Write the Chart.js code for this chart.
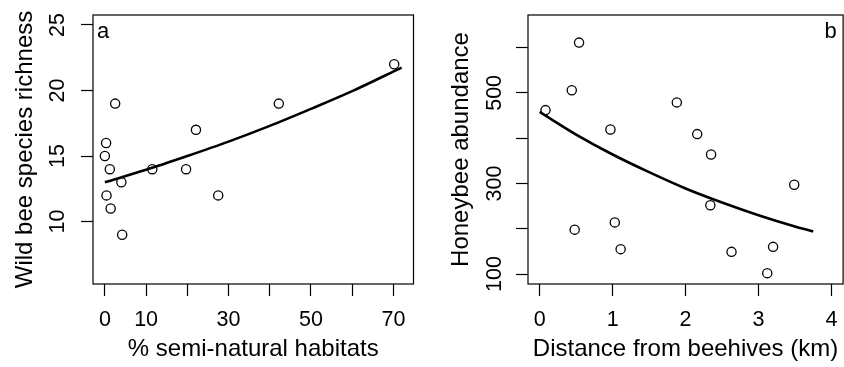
<!DOCTYPE html>
<html>
<head>
<meta charset="utf-8">
<script src="https://cdn.jsdelivr.net/npm/chart.js@4"></script>
<style>
  html, body { margin: 0; padding: 0; background: #fff; overflow: hidden; }
  #wrapA { position: absolute; left: 0; top: 0; width: 422px; height: 367px; }
  #wrapB { position: absolute; left: 422px; top: 0; width: 427px; height: 367px; }
</style>
</head>
<body>
<div id="wrapA"><canvas id="chartA"></canvas></div>
<div id="wrapB"><canvas id="chartB"></canvas></div>
<script>
// panel a: wild bee richness vs % semi-natural habitats
const habitatX = [0, 0.3, 1.2, 0.4, 1.4, 2.5, 4.0, 4.2, 11.5, 19.7, 22.1, 27.5, 42.2, 70.2];
const richnessY = [15, 16, 14, 12, 11, 19, 13, 9, 14, 14, 17, 12, 19, 22];
const fitHabitatX = [0, 10, 20, 30, 40, 50, 60, 72];
const fitRichnessY = [13.0, 13.95, 15.0, 16.1, 17.3, 18.6, 19.95, 21.75];
const xTicksA = [0, 10, 20, 30, 40, 50, 60, 70];
const xLabelsA = [0, 10, 30, 50, 70];
const yTicksA = [10, 15, 20, 25];
const yLabelsA = [10, 15, 20, 25];

// panel b: honeybee abundance vs distance from hives
const distX = [0.08, 0.44, 0.54, 0.48, 0.97, 1.03, 1.11, 1.88, 2.16, 2.35, 2.34, 2.63, 3.12, 3.2, 3.49];
const honeyY = [462, 506, 611, 198, 419, 214, 155, 479, 409, 364, 252, 149, 102, 160, 297];
const fitDistX = [0, 0.5, 1, 1.5, 2, 2.5, 3, 3.5, 3.75];
const fitHoneyY = [458, 408, 364, 325, 289, 258, 230, 205, 194];
const xTicksB = [0, 1, 2, 3, 4];
const xLabelsB = [0, 1, 2, 3, 4];
const yTicksB = [100, 200, 300, 400, 500, 600];
const yLabelsB = [100, 300, 500];

const FONT = '"Liberation Sans", Arial, Helvetica, sans-serif';

function pts(xs, ys) { return xs.map((x, i) => ({ x: x, y: ys[i] })); }

// box round the plot region, rotated y labels, panel letter
function panelPlugin(letter, letterX, letterY, yLabels, labelX) {
    return {
        id: 'panel' + letter,
        afterDraw(chart) {
            const ctx = chart.ctx;
            const a = chart.chartArea;
            ctx.save();
            ctx.strokeStyle = '#000';
            ctx.lineWidth = 1.2;
            ctx.strokeRect(a.left, a.top, a.right - a.left, a.bottom - a.top);

            const fs = 21.5;
            ctx.fillStyle = '#000';
            ctx.font = fs + 'px ' + FONT;
            ctx.textAlign = 'center';
            ctx.textBaseline = 'alphabetic';
            const ys = chart.scales.y;
            yLabels.forEach(v => {
                const py = ys.getPixelForValue(v);
                ctx.save();
                ctx.translate(labelX + 0.358 * fs, py);
                ctx.rotate(-Math.PI / 2);
                ctx.fillText(String(v), 0, 0);
                ctx.restore();
            });

            ctx.font = '22px ' + FONT;
            ctx.textAlign = 'left';
            ctx.fillText(letter, letterX, letterY);
            ctx.restore();
        }
    };
}

function makeChart(id, cfg) {
    return new Chart(document.getElementById(id), {
        type: 'scatter',
        data: {
            datasets: [{
                data: pts(cfg.px, cfg.py),
                showLine: false,
                pointStyle: 'circle',
                pointRadius: 4.6,
                pointBorderWidth: 1.3,
                pointBorderColor: '#000',
                pointBackgroundColor: 'rgba(0,0,0,0)',
                pointHoverRadius: 4.6
            }, {
                type: 'line',
                data: pts(cfg.fx, cfg.fy),
                borderColor: '#000',
                borderWidth: 2.6,
                pointRadius: 0,
                fill: false,
                cubicInterpolationMode: 'monotone'
            }]
        },
        options: {
            responsive: true,
            maintainAspectRatio: false,
            animation: false,
            events: [],
            layout: { padding: { top: 15, right: cfg.padRight, left: 0, bottom: 0 } },
            plugins: { legend: { display: false }, tooltip: { enabled: false } },
            scales: {
                x: {
                    type: 'linear',
                    min: cfg.xMin, max: cfg.xMax,
                    afterFit: s => { s.height = 83; },
                    afterBuildTicks: s => { s.ticks = cfg.xTicks.map(v => ({ value: v })); },
                    border: { display: false },
                    grid: { drawOnChartArea: false, drawTicks: true, tickLength: 12, tickColor: '#000', tickWidth: 1.2 },
                    ticks: {
                        autoSkip: false, maxRotation: 0, padding: 11, color: '#000',
                        font: { family: FONT, size: 21.5 },
                        callback: v => cfg.xLabels.includes(v) ? String(v) : ''
                    },
                    title: {
                        display: true, text: cfg.xTitle, color: '#000',
                        font: { family: FONT, size: 24 },
                        padding: { top: 0, bottom: 3.5 }
                    }
                },
                y: {
                    type: 'linear',
                    min: cfg.yMin, max: cfg.yMax,
                    afterFit: s => { s.width = cfg.yWidth; },
                    afterBuildTicks: s => { s.ticks = cfg.yTicks.map(v => ({ value: v })); },
                    border: { display: false },
                    grid: { drawOnChartArea: false, drawTicks: true, tickLength: 12, tickColor: '#000', tickWidth: 1.2 },
                    ticks: { display: false },
                    title: {
                        display: true, text: cfg.yTitle, color: '#000',
                        font: { family: FONT, size: 24 },
                        padding: { top: cfg.yTitlePad, bottom: 0 }
                    }
                }
            }
        },
        plugins: [panelPlugin(cfg.letter, cfg.letterX, cfg.letterY, cfg.yLabels, cfg.yLabelX)]
    });
}

makeChart('chartA', {
    px: habitatX, py: richnessY, fx: fitHabitatX, fy: fitRichnessY,
    xMin: -2.88, xMax: 74.88, yMin: 5.24, yMax: 25.76,
    xTicks: xTicksA, xLabels: xLabelsA, yTicks: yTicksA, yLabels: yLabelsA,
    xTitle: '% semi-natural habitats', yTitle: 'Wild bee species richness',
    yWidth: 93, padRight: 8.5, yTitlePad: 10.6, yLabelX: 56.3,
    letter: 'a', letterX: 97, letterY: 37.5
});

makeChart('chartB', {
    px: distX, py: honeyY, fx: fitDistX, fy: fitHoneyY,
    xMin: -0.16, xMax: 4.16, yMin: 78, yMax: 672,
    xTicks: xTicksB, xLabels: xLabelsB, yTicks: yTicksB, yLabels: yLabelsB,
    xTitle: 'Distance from beehives (km)', yTitle: 'Honeybee abundance',
    yWidth: 106, padRight: 0, yTitlePad: 25, yLabelX: 71.3,
    letter: 'b', letterX: 402.5, letterY: 38.3
});
</script>
</body>
</html>
